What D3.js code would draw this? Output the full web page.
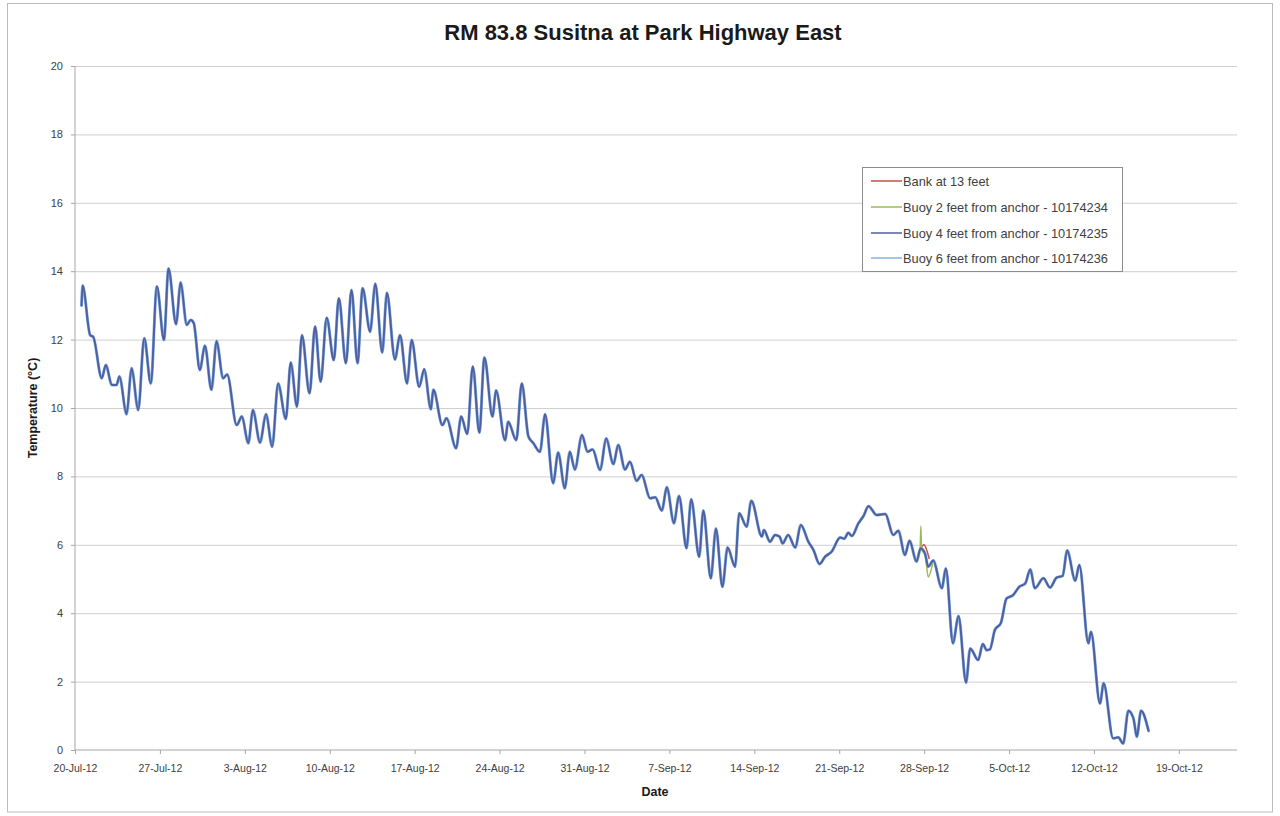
<!DOCTYPE html>
<html>
<head>
<meta charset="utf-8">
<script src="https://cdn.jsdelivr.net/npm/d3@7"></script>
<style>
  html, body { margin: 0; padding: 0; background: #ffffff; }
  svg { display: block; font-family: "Liberation Sans", Arial, sans-serif; }
</style>
</head>
<body>
<svg id="chart" width="1280" height="816"></svg>
<script>
// ---------------- DATA ----------------
const chartTitle = "RM 83.8 Susitna at Park Highway East";
const xTitle = "Date";
const yTitle = "Temperature (°C)";

const seriesNames = [
  "Bank at 13 feet",
  "Buoy 2 feet from anchor - 10174234",
  "Buoy 4 feet from anchor - 10174235",
  "Buoy 6 feet from anchor - 10174236"
];

const xTickDates = ["2012-07-20","2012-07-27","2012-08-03","2012-08-10","2012-08-17","2012-08-24",
  "2012-08-31","2012-09-07","2012-09-14","2012-09-21","2012-09-28","2012-10-05","2012-10-12","2012-10-19"];
const yTickValues = [0, 2, 4, 6, 8, 10, 12, 14, 16, 18, 20];

// Buoy 4 (visible main trace) – date/time and temperature
const buoyDates = [
"2012-07-20 13:00","2012-07-20 15:00","2012-07-21 06:00","2012-07-21 12:00","2012-07-22 05:00","2012-07-22 13:00",
"2012-07-23 01:00","2012-07-23 10:00","2012-07-23 16:00","2012-07-24 06:00","2012-07-24 16:00","2012-07-25 05:00",
"2012-07-25 17:00","2012-07-26 06:00","2012-07-26 18:00","2012-07-27 08:00","2012-07-27 17:00","2012-07-28 08:00",
"2012-07-28 17:00","2012-07-29 05:00","2012-07-29 13:00","2012-07-29 19:00","2012-07-30 07:00","2012-07-30 17:00",
"2012-07-31 06:00","2012-07-31 16:00","2012-08-01 05:00","2012-08-01 13:00","2012-08-02 08:00","2012-08-02 18:00",
"2012-08-03 07:00","2012-08-03 16:00","2012-08-04 06:00","2012-08-04 18:00","2012-08-05 06:00","2012-08-05 18:00",
"2012-08-06 09:00","2012-08-06 19:00","2012-08-07 07:00","2012-08-07 17:00","2012-08-08 08:00","2012-08-08 19:00",
"2012-08-09 06:00","2012-08-09 18:00","2012-08-10 08:00","2012-08-10 18:00","2012-08-11 08:00","2012-08-11 19:00",
"2012-08-12 07:00","2012-08-12 17:00","2012-08-13 08:00","2012-08-13 18:00","2012-08-14 08:00","2012-08-14 17:00",
"2012-08-15 09:00","2012-08-15 19:00","2012-08-16 09:00","2012-08-16 18:00","2012-08-17 09:00","2012-08-17 19:00",
"2012-08-18 08:00","2012-08-18 13:00","2012-08-19 07:00","2012-08-19 15:00","2012-08-20 10:00","2012-08-20 20:00",
"2012-08-21 08:00","2012-08-21 19:00","2012-08-22 08:00","2012-08-22 18:00","2012-08-23 10:00","2012-08-23 17:00",
"2012-08-24 11:00","2012-08-24 17:00","2012-08-25 09:00","2012-08-25 20:00","2012-08-26 09:00","2012-08-26 19:00",
"2012-08-27 08:00","2012-08-27 18:00","2012-08-28 10:00","2012-08-28 20:00","2012-08-29 09:00","2012-08-29 19:00",
"2012-08-30 05:00","2012-08-30 19:00","2012-08-31 06:00","2012-08-31 16:00","2012-09-01 07:00","2012-09-01 19:00",
"2012-09-02 09:00","2012-09-02 19:00","2012-09-03 08:00","2012-09-03 18:00","2012-09-04 07:00","2012-09-04 17:00",
"2012-09-05 10:00","2012-09-05 20:00","2012-09-06 09:00","2012-09-06 19:00","2012-09-07 09:00","2012-09-07 19:00",
"2012-09-08 10:00","2012-09-08 19:00","2012-09-09 11:00","2012-09-09 19:00","2012-09-10 10:00","2012-09-10 20:00",
"2012-09-11 09:00","2012-09-11 19:00","2012-09-12 10:00","2012-09-12 18:00","2012-09-13 09:00","2012-09-13 18:00",
"2012-09-14 15:00","2012-09-14 19:00","2012-09-15 07:00","2012-09-15 17:00","2012-09-16 02:00","2012-09-16 08:00",
"2012-09-16 19:00","2012-09-17 09:00","2012-09-17 20:00","2012-09-18 11:00","2012-09-18 21:00","2012-09-19 09:00",
"2012-09-19 20:00","2012-09-20 09:00","2012-09-21 02:00","2012-09-21 10:00","2012-09-21 18:00","2012-09-22 01:00",
"2012-09-22 14:00","2012-09-23 00:00","2012-09-23 10:00","2012-09-24 02:00","2012-09-24 19:00","2012-09-25 11:00",
"2012-09-25 21:00","2012-09-26 10:00","2012-09-26 19:00","2012-09-27 09:00","2012-09-27 17:00","2012-09-28 02:00",
"2012-09-28 08:00","2012-09-28 18:00","2012-09-29 11:00","2012-09-29 19:00","2012-09-30 09:00","2012-09-30 20:00",
"2012-10-01 11:00","2012-10-01 19:00","2012-10-02 11:00","2012-10-02 20:00","2012-10-03 04:00","2012-10-03 10:00",
"2012-10-03 20:00","2012-10-04 08:00","2012-10-04 19:00","2012-10-05 08:00","2012-10-05 20:00","2012-10-06 08:00",
"2012-10-06 18:00","2012-10-07 03:00","2012-10-07 20:00","2012-10-08 09:00","2012-10-08 22:00","2012-10-09 10:00",
"2012-10-09 19:00","2012-10-10 11:00","2012-10-10 19:00","2012-10-11 13:00","2012-10-11 18:00","2012-10-12 12:00",
"2012-10-12 19:00","2012-10-13 14:00","2012-10-14 00:00","2012-10-14 10:00","2012-10-14 20:00","2012-10-15 06:00",
"2012-10-15 13:00","2012-10-15 21:00","2012-10-16 12:00"
];
const buoy4Values = [
13.00,13.58,12.13,12.08,10.87,11.26,
10.67,10.67,10.92,9.82,11.16,9.94,
12.04,10.72,13.55,11.99,14.08,12.45,
13.67,12.43,12.57,12.48,11.11,11.82,
10.53,11.96,10.87,10.98,9.50,9.75,
8.97,9.94,8.99,9.82,8.87,10.72,
9.68,11.33,10.04,12.13,10.43,12.38,
10.77,12.64,11.40,13.21,11.31,13.45,
11.31,13.50,12.23,13.63,11.62,13.37,
11.42,12.13,10.72,11.99,10.62,11.13,
9.96,10.53,9.50,9.70,8.82,9.75,
9.24,11.21,9.28,11.48,9.75,10.51,
9.06,9.60,9.06,10.72,9.17,8.97,
8.72,9.82,7.80,8.70,7.65,8.72,
8.20,9.21,8.72,8.79,8.19,9.11,
8.36,8.92,8.20,8.43,7.87,8.04,
7.36,7.39,7.00,7.68,6.63,7.43,
5.90,7.33,5.65,7.00,5.02,6.48,
4.77,5.92,5.36,6.92,6.53,7.29,
6.24,6.43,6.09,6.29,6.24,6.04,
6.29,5.92,6.58,6.09,5.85,5.44,
5.65,5.80,6.21,6.18,6.35,6.26,
6.63,6.84,7.13,6.87,6.90,6.29,
6.41,5.70,6.12,5.51,5.90,5.73,
5.36,5.54,4.73,5.31,3.12,3.92,
1.97,2.97,2.63,3.10,2.92,2.94,
3.51,3.72,4.43,4.53,4.77,4.87,
5.28,4.73,5.02,4.75,5.04,5.09,
5.83,4.95,5.41,3.12,3.46,1.36,
1.95,0.34,0.37,0.19,1.15,0.93,
0.39,1.15,0.56
];
// Buoy 6 lies directly under Buoy 4 in the picture (same readings)
const buoy6Values = buoy4Values.slice();

// Buoy 2: only visible where it departs from the others (late September)
const buoy2Dates = ["2012-09-27 09:00","2012-09-27 16:00","2012-09-27 17:30","2012-09-27 19:00","2012-09-28 02:00","2012-09-28 08:00","2012-09-28 18:00"];
const buoy2Values = [5.51, 5.85, 6.55, 5.85, 5.73, 5.06, 5.54];

// Bank at 13 feet: short visible fragment (late September)
const bankDates = ["2012-09-27 17:00","2012-09-28 00:00","2012-09-28 05:00","2012-09-28 10:00"];
const bankValues = [5.90, 6.00, 5.85, 5.60];

const seriesColors = ["#c0504d", "#9bbb59", "#4f5fa3", "#86b2dd"];

// ---------------- CHART ----------------
const parseT = d3.utcParse("%Y-%m-%d %H:%M");
const parseD = d3.utcParse("%Y-%m-%d");
const fmt = d3.utcFormat("%-d-%b-%y");

const svg = d3.select("#chart");
const W = 1280, H = 816;
const plot = { left: 75, right: 1237, top: 66, bottom: 750 };
const FONT = "'Liberation Sans', Arial, sans-serif";

svg.append("rect").attr("x", 0).attr("y", 0).attr("width", W).attr("height", H).attr("fill", "#fff");
svg.append("rect").attr("x", 7.5).attr("y", 3.5).attr("width", 1265).attr("height", 808.5)
   .attr("fill", "none").attr("stroke", "#bcbcbc").attr("stroke-width", 1);

const x = d3.scaleUtc()
  .domain([parseD("2012-07-20"), d3.utcHour.offset(parseD("2012-07-20"), Math.round(95.8 * 24))])
  .range([plot.left, plot.right]);
const y = d3.scaleLinear().domain([0, 20]).range([plot.bottom, plot.top]);

// gridlines
svg.append("g")
  .attr("transform", `translate(${plot.left},0)`)
  .call(d3.axisLeft(y).tickValues(yTickValues.filter(v => v > 0)).tickSize(-(plot.right - plot.left)).tickFormat(""))
  .call(g => g.select(".domain").remove())
  .call(g => g.selectAll("line").attr("stroke", "#cfcfcf").attr("stroke-width", 1));

// y axis
const yAxis = svg.append("g")
  .attr("transform", `translate(${plot.left},0)`)
  .call(d3.axisLeft(y).tickValues(yTickValues).tickSize(4).tickPadding(8));
yAxis.select(".domain").attr("stroke", "#a6a6a6").attr("d", `M0,${plot.top}V${plot.bottom}`);
yAxis.selectAll("line").attr("stroke", "#a6a6a6");
yAxis.selectAll("text").attr("fill", "#404040").style("font-size", "11px").style("font-family", FONT);

// x axis
const xAxis = svg.append("g")
  .attr("transform", `translate(0,${plot.bottom})`)
  .call(d3.axisBottom(x).tickValues(xTickDates.map(parseD)).tickFormat(fmt).tickSize(4).tickPadding(11));
xAxis.select(".domain").attr("stroke", "#a6a6a6").attr("d", `M${plot.left},0H${plot.right}`);
xAxis.selectAll("line").attr("stroke", "#a6a6a6");
xAxis.selectAll("text").attr("fill", "#404040").style("font-size", "10.5px").style("font-family", FONT);

// lines
const line = d3.line().x(d => x(d[0])).y(d => y(d[1])).curve(d3.curveMonotoneX);
const mk = (dates, vals) => dates.map((t, i) => [parseT(t), vals[i]]);

const drawOrder = [
  { data: mk(buoyDates, buoy6Values), color: seriesColors[3], w: 3.0 },
  { data: mk(bankDates, bankValues), color: seriesColors[0], w: 1.5 },
  { data: mk(buoy2Dates, buoy2Values), color: seriesColors[1], w: 1.5 },
  { data: mk(buoyDates, buoy4Values), color: seriesColors[2], w: 2.0 }
];
drawOrder.forEach(s => {
  svg.append("path").datum(s.data)
    .attr("fill", "none").attr("stroke", s.color).attr("stroke-width", s.w)
    .attr("stroke-linejoin", "round").attr("stroke-linecap", "round")
    .attr("d", line);
});

// title
svg.append("text").attr("x", 643).attr("y", 40).attr("text-anchor", "middle")
  .style("font-size", "22px").style("font-weight", "bold").attr("fill", "#1a1a1a")
  .style("font-family", FONT)
  .text(chartTitle);

// axis titles
svg.append("text").attr("x", 655).attr("y", 796).attr("text-anchor", "middle")
  .style("font-size", "12.5px").style("font-weight", "bold").attr("fill", "#1a1a1a")
  .text(xTitle);
svg.append("text").attr("transform", "translate(37,408) rotate(-90)").attr("text-anchor", "middle")
  .style("font-size", "12.5px").style("font-weight", "bold").attr("fill", "#1a1a1a")
  .text(yTitle);

// legend
const lg = svg.append("g");
lg.append("rect").attr("x", 862.5).attr("y", 167.5).attr("width", 260).attr("height", 104)
  .attr("fill", "#fff").attr("stroke", "#8c8c8c").attr("stroke-width", 1);
const rowsY = [181, 207, 233, 258];
seriesNames.forEach((name, i) => {
  lg.append("line").attr("x1", 871).attr("x2", 902).attr("y1", rowsY[i]).attr("y2", rowsY[i])
    .attr("stroke", seriesColors[i]).attr("stroke-width", 1.5);
  lg.append("text").attr("x", 903).attr("y", rowsY[i] + 4.5)
    .style("font-size", "12.8px").attr("fill", "#404040").text(name);
});
</script>
</body>
</html>
